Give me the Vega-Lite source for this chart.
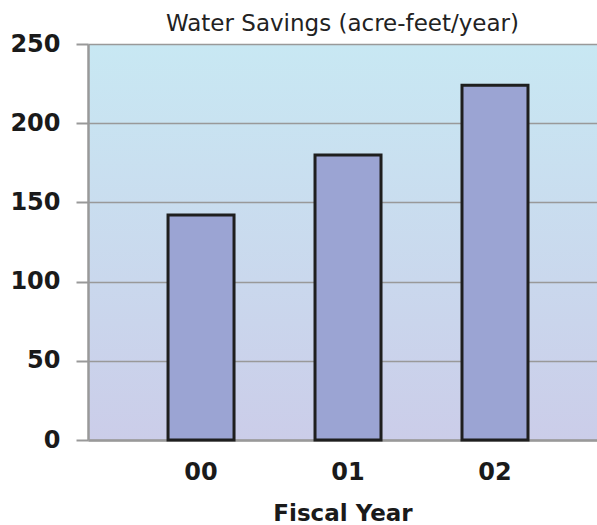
{
  "$schema": "https://vega.github.io/schema/vega-lite/v6.json",
  "width": 509,
  "height": 396,
  "autosize": {"type": "none"},
  "padding": {"left": 88, "top": 44, "right": 0, "bottom": 85},
  "background": "white",
  "title": {
    "text": "Water Savings (acre-feet/year)",
    "font": "DejaVu Sans",
    "fontSize": 23,
    "fontWeight": "normal",
    "color": "#222222",
    "anchor": "middle",
    "offset": -4
  },
  "config": {
    "view": {
      "stroke": null,
      "fill": {
        "gradient": "linear",
        "x1": 0, "y1": 0, "x2": 0, "y2": 1,
        "stops": [
          {"offset": 0, "color": "#c8e8f3"},
          {"offset": 1, "color": "#cbcde9"}
        ]
      }
    }
  },
  "data": {
    "values": [
      {"year": "00", "savings": 142},
      {"year": "01", "savings": 180},
      {"year": "02", "savings": 224}
    ]
  },
  "mark": {"type": "bar", "color": "#9ba4d3", "stroke": "#1e1e1e", "strokeWidth": 3},
  "encoding": {
    "x": {
      "field": "year",
      "type": "ordinal",
      "scale": {"paddingInner": 0.551, "paddingOuter": 0.507, "align": 0.537},
      "axis": {
        "title": "Fiscal Year",
        "titleFont": "DejaVu Sans",
        "titleFontSize": 23,
        "titleFontWeight": "bold",
        "titleColor": "#1a1a1a",
        "titlePadding": 18,
        "labelFont": "DejaVu Sans",
        "labelFontSize": 24,
        "labelFontWeight": "bold",
        "labelColor": "#1a1a1a",
        "labelAngle": 0,
        "labelPadding": 20,
        "ticks": false,
        "domainColor": "#999999",
        "domainWidth": 2.5
      }
    },
    "y": {
      "field": "savings",
      "type": "quantitative",
      "scale": {"domain": [0, 250], "nice": false},
      "axis": {
        "title": null,
        "values": [0, 50, 100, 150, 200, 250],
        "labelFont": "DejaVu Sans",
        "labelFontSize": 24,
        "labelFontWeight": "bold",
        "labelColor": "#1a1a1a",
        "labelPadding": 16,
        "tickSize": 12,
        "tickColor": "#999999",
        "tickWidth": 2,
        "domainColor": "#999999",
        "domainWidth": 2.5,
        "grid": true,
        "gridColor": "#999999",
        "gridWidth": 1.5
      }
    }
  }
}
